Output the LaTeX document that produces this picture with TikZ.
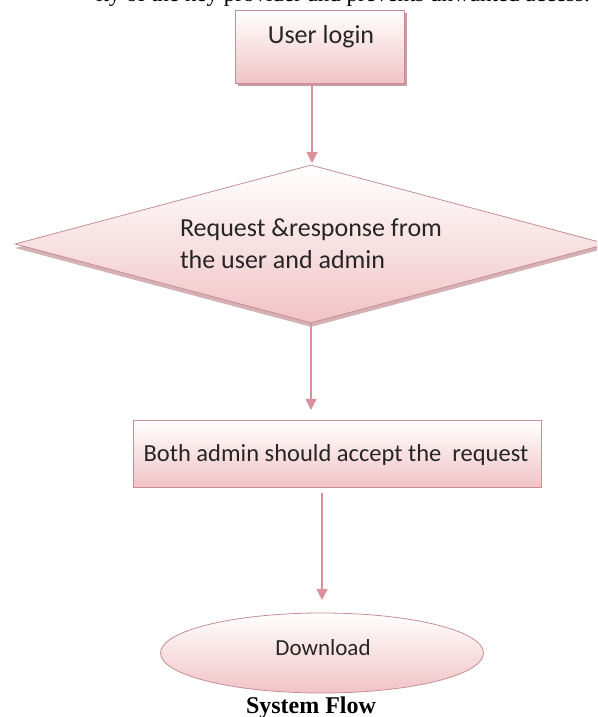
\documentclass[tikz,border=0pt]{standalone}
\usepackage{fontspec}
\setmainfont{Liberation Serif}
\newfontfamily\calfont{Carlito}
\usetikzlibrary{shapes.geometric,arrows.meta,calc,shadows}
\definecolor{pinkfill}{HTML}{F1C3C6}
\definecolor{edgec}{HTML}{C68E96}
\definecolor{arrowc}{HTML}{DC909C}
\definecolor{shadowc}{HTML}{CB9CA2}
\begin{document}
\begin{tikzpicture}[x=1pt,y=1pt,
  lbl/.style={font=\calfont\fontsize{26}{32}\selectfont, text=black!85, inner sep=0pt},
  shapebase/.style={draw=edgec, line width=0.8pt, top color=white, bottom color=pinkfill, inner sep=0pt},
  flowarrow/.style={draw=arrowc, line width=1.2pt, -{Triangle[length=11pt,width=11pt]}}]
\useasboundingbox (0,0) rectangle (597,717);
\begin{scope}
\clip (0,0) rectangle (597,717);
% cut-off text at top
\node[anchor=base east, font=\fontsize{23}{26}\selectfont, inner sep=0pt] (toptext) at (590,715.5) {ity of the key provider and prevents unwanted access.};
% user login box
\node[shapebase, rectangle, minimum width=169pt, minimum height=73pt,
      drop shadow={shadow xshift=3pt, shadow yshift=-3pt, fill=shadowc, opacity=1}] (login) at (319.5,670.5) {};
\node[lbl] (logintext) at (321,680) {User login};
% diamond
\node[shapebase, diamond, minimum width=592pt, minimum height=158pt,
      drop shadow={shadow xshift=0pt, shadow yshift=-4pt, fill=shadowc, opacity=0.8}] (req) at (311,473) {};
\node[lbl, align=left, font=\calfont\fontsize{26}{32}\selectfont] (reqtext) at (311,473) {Request \&response from\\the user and admin};
% accept box
\node[shapebase, rectangle, minimum width=408pt, minimum height=67pt] (accept) at (337,263.5) {};
\node[lbl, font=\calfont\fontsize{24.5}{30}\selectfont] (accepttext) at (336,262) {Both admin should accept the\ \ request};
% download ellipse
\node[shapebase, ellipse, minimum width=323pt, minimum height=80pt] (download) at (322,64) {};
\node[lbl, font=\calfont\fontsize{23}{30}\selectfont] (downloadtext) at (323,69) {Download};
% caption
\node[anchor=base, font=\bfseries\fontsize{24}{28}\selectfont, inner sep=0pt] (caption) at (311,4) {System Flow};
% connectors
\coordinate (a1end) at (312,554);
\coordinate (a2end) at (311,307);
\coordinate (a3end) at (322,117);
\draw[flowarrow] (login.south -| a1end) -- (a1end);
\draw[flowarrow] (req.south) -- (a2end);
\draw[flowarrow] ($(accept.south -| a3end)+(0,-6)$) -- (a3end);
\end{scope}
\end{tikzpicture}
\end{document}
